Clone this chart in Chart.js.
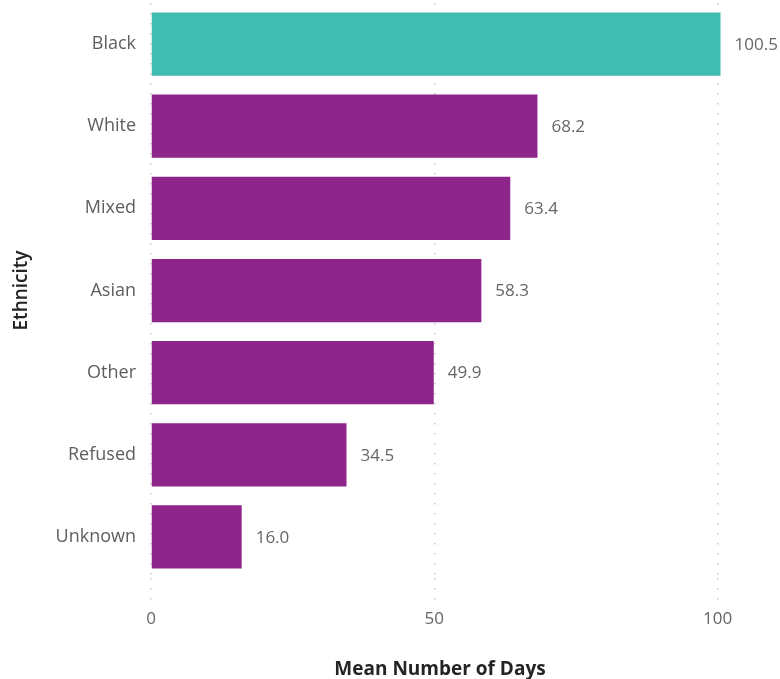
<!DOCTYPE html>
<html>
<head>
<meta charset="utf-8">
<script src="https://cdn.jsdelivr.net/npm/chart.js@4/dist/chart.umd.min.js"></script>
<style>
  html, body { margin: 0; padding: 0; background: #fff; }
  #wrap { width: 780px; height: 679px; }
</style>
</head>
<body>
<div id="wrap"><canvas id="myChart" width="780" height="679"></canvas></div>
<script>
const ethnicities = ['Black', 'White', 'Mixed', 'Asian', 'Other', 'Refused', 'Unknown'];
const meanDays = [100.5, 68.2, 63.4, 58.3, 49.9, 34.5, 16.0];
const xTicks = [0, 50, 100];

const teal = '#41bcb1';
const purple = '#8e258b';
const barColors = ethnicities.map((e, i) => i === 0 ? teal : purple);

const font = "'Segoe UI', 'Open Sans', 'Noto Sans', sans-serif";

// value text to the right of each bar
const valueLabels = {
  id: 'valueLabels',
  afterDatasetsDraw(chart) {
    const ctx = chart.ctx;
    const meta = chart.getDatasetMeta(0);
    ctx.save();
    ctx.font = '17px ' + font;
    ctx.fillStyle = '#666666';
    ctx.textAlign = 'left';
    ctx.textBaseline = 'middle';
    meta.data.forEach((bar, i) => {
      ctx.fillText(meanDays[i].toFixed(1), bar.x + 14, bar.y + 1);
    });
    ctx.restore();
  }
};

let ctx = document.getElementById('myChart').getContext('2d');
let myChart = new Chart(ctx, {
  type: 'bar',
  data: {
    labels: ethnicities,
    datasets: [{
      data: meanDays,
      backgroundColor: barColors,
      borderWidth: 0,
      categoryPercentage: 0.77,
      barPercentage: 1.0
    }]
  },
  options: {
    indexAxis: 'y',
    responsive: false,
    animation: false,
    layout: { padding: { top: 3, right: 51, left: 0, bottom: 0 } },
    plugins: {
      legend: { display: false },
      tooltip: { enabled: false }
    },
    scales: {
      x: {
        min: 0,
        max: 102,
        afterBuildTicks: axis => { axis.ticks = xTicks.map(v => ({ value: v })); },
        afterFit: axis => { axis.height = 101; },
        border: { display: false, dash: [1.5, 8.5] },
        grid: {
          color: '#c8c8c8',
          lineWidth: 1.5,
          tickColor: '#c8c8c8',
          tickLength: 25,
          tickBorderDash: [1.5, 8.5],
          drawTicks: true
        },
        ticks: {
          padding: 6,
          color: '#666666',
          font: { family: font, size: 17 }
        },
        title: {
          display: true,
          text: 'Mean Number of Days',
          color: '#252423',
          padding: { top: 0, bottom: -2 },
          font: { family: font, size: 19, weight: 'bold' }
        }
      },
      y: {
        afterFit: axis => {
          axis.width = 151;
          axis.paddingTop = 0;
          axis.paddingBottom = 0;
        },
        border: { display: false },
        grid: { display: false },
        ticks: {
          padding: 7,
          color: '#605e5c',
          font: { family: font, size: 18 }
        },
        title: {
          display: true,
          text: 'Ethnicity',
          color: '#252423',
          padding: { top: 10, bottom: 0 },
          font: { family: font, size: 19, weight: '600' }
        }
      }
    }
  },
  plugins: [valueLabels]
});
</script>
</body>
</html>
